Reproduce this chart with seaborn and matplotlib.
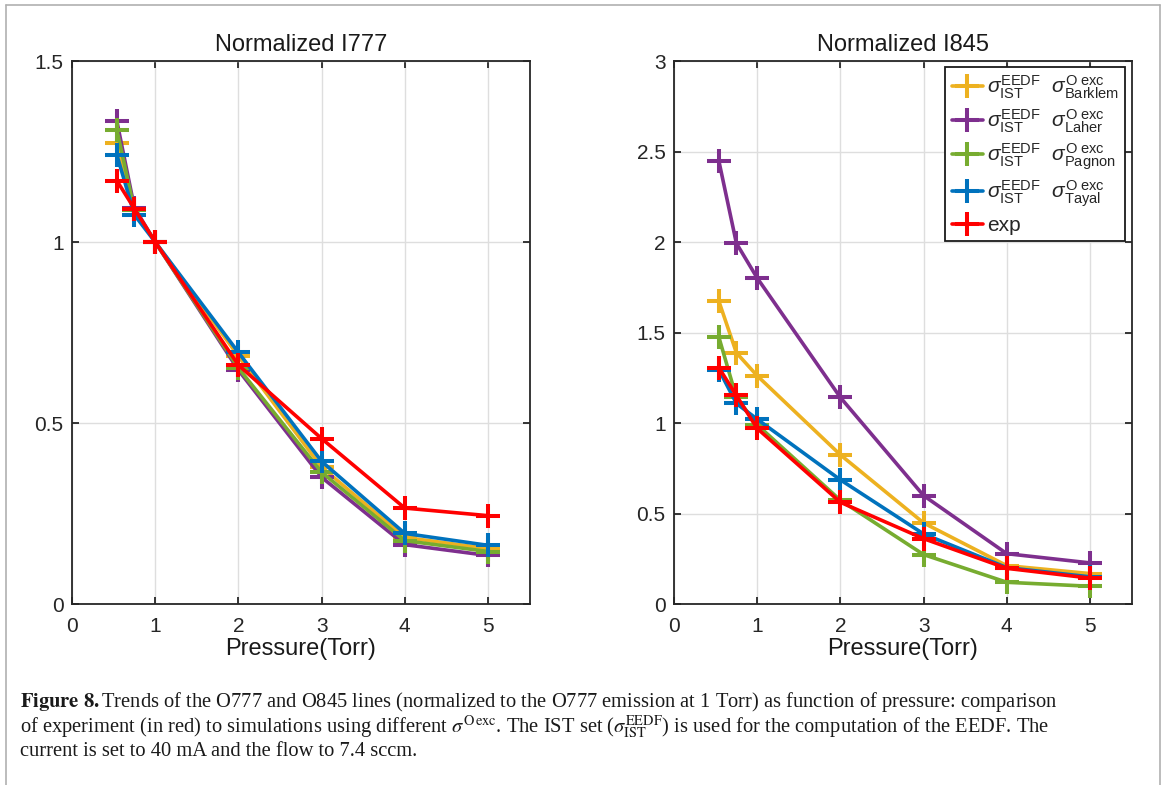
import numpy as np
import pandas as pd
import matplotlib
matplotlib.use("Agg")
import matplotlib.pyplot as plt
from matplotlib.lines import Line2D
import seaborn as sns

# Pressure points (Torr)
pressure = [0.54, 0.75, 1, 2, 3, 4, 5]

series_names = ["Barklem", "Laher", "Pagnon", "Tayal", "exp"]

# Normalized I777
i777_barklem = [1.274, 1.090, 1.0, 0.685, 0.378, 0.184, 0.153]
i777_laher = [1.333, 1.095, 1.0, 0.646, 0.350, 0.164, 0.134]
i777_pagnon = [1.309, 1.088, 1.0, 0.652, 0.364, 0.175, 0.145]
i777_tayal = [1.240, 1.075, 1.0, 0.695, 0.394, 0.195, 0.162]
i777_exp = [1.169, 1.092, 1.0, 0.660, 0.457, 0.265, 0.244]

# Normalized I845
i845_barklem = [1.672, 1.388, 1.261, 0.824, 0.448, 0.212, 0.168]
i845_laher = [2.446, 1.993, 1.801, 1.141, 0.599, 0.278, 0.227]
i845_pagnon = [1.473, 1.141, 0.990, 0.573, 0.273, 0.120, 0.098]
i845_tayal = [1.294, 1.108, 1.021, 0.686, 0.387, 0.201, 0.150]
i845_exp = [1.305, 1.152, 0.970, 0.562, 0.361, 0.197, 0.143]

colors = {
    "Barklem": "#EDB120",
    "Laher": "#7E2F8E",
    "Pagnon": "#77AC30",
    "Tayal": "#0072BD",
    "exp": "#FF0000",
}

legend_labels = [
    r"$\sigma^{\mathrm{EEDF}}_{\mathrm{IST}}\ \ \sigma^{\mathrm{O\ exc}}_{\mathrm{Barklem}}$",
    r"$\sigma^{\mathrm{EEDF}}_{\mathrm{IST}}\ \ \sigma^{\mathrm{O\ exc}}_{\mathrm{Laher}}$",
    r"$\sigma^{\mathrm{EEDF}}_{\mathrm{IST}}\ \ \sigma^{\mathrm{O\ exc}}_{\mathrm{Pagnon}}$",
    r"$\sigma^{\mathrm{EEDF}}_{\mathrm{IST}}\ \ \sigma^{\mathrm{O\ exc}}_{\mathrm{Tayal}}$",
    "exp",
]


def long_frame(values):
    rows = []
    for name, vals in zip(series_names, values):
        for p, v in zip(pressure, vals):
            rows.append({"pressure": p, "value": v, "set": name})
    return pd.DataFrame(rows)


df777 = long_frame([i777_barklem, i777_laher, i777_pagnon, i777_tayal, i777_exp])
df845 = long_frame([i845_barklem, i845_laher, i845_pagnon, i845_tayal, i845_exp])

sns.set_theme(style="ticks")
plt.rcParams["font.family"] = ["Liberation Sans", "DejaVu Sans"]
plt.rcParams["mathtext.fontset"] = "custom"
plt.rcParams["mathtext.rm"] = "Liberation Sans"
plt.rcParams["mathtext.it"] = "Liberation Sans:italic"
plt.rcParams["mathtext.bf"] = "Liberation Sans:bold"

W, H = 1165, 785
fig = plt.figure(figsize=(W / 100, H / 100), dpi=100)
fig.patch.set_facecolor("white")


def px_axes(x0, x1, y_top, y_bot):
    return fig.add_axes([x0 / W, 1 - y_bot / H, (x1 - x0) / W, (y_bot - y_top) / H])


ax1 = px_axes(72, 529.6, 61, 604)
ax2 = px_axes(674, 1131.6, 61, 604)

line_kw = dict(marker="+", markersize=17, markeredgewidth=2.9, linewidth=2.6)

for ax, df, ymax, yticks, title in [
    (ax1, df777, 1.5, [0, 0.5, 1, 1.5], "Normalized I777"),
    (ax2, df845, 3.0, [0, 0.5, 1, 1.5, 2, 2.5, 3], "Normalized I845"),
]:
    sns.lineplot(data=df, x="pressure", y="value", hue="set", hue_order=series_names,
                 palette=colors, legend=False, sort=False, ax=ax, **line_kw)
    # '+' markers take the colour of their own line
    for ln in ax.lines:
        ln.set_markeredgecolor(ln.get_color())
        ln.set_markerfacecolor(ln.get_color())
    ax.set_xlim(0, 5.5)
    ax.set_ylim(0, ymax)
    ax.set_xticks([0, 1, 2, 3, 4, 5])
    ax.set_xticklabels(["0", "1", "2", "3", "4", "5"])
    ax.set_yticks(yticks)
    ax.set_yticklabels([f"{t:g}" for t in yticks])
    ax.grid(True, color="#dedede", linewidth=1.0)
    ax.set_axisbelow(True)
    for s in ax.spines.values():
        s.set_visible(True)
        s.set_color("#262626")
        s.set_linewidth(1.3)
    ax.tick_params(direction="in", length=5, width=1.3, color="#262626",
                   top=True, right=True, labelsize=15, labelcolor="#262626")
    ax.tick_params(axis="x", pad=9)
    ax.tick_params(axis="y", pad=6)
    ax.set_title(title, fontsize=17, pad=7, color="#1a1a1a")
    ax.set_xlabel("Pressure(Torr)", fontsize=17, labelpad=2, color="#1a1a1a")
    ax.set_ylabel("")

handles = [Line2D([], [], color=colors[n], markeredgecolor=colors[n], **line_kw)
           for n in series_names]
leg = ax2.legend(handles, legend_labels, loc="upper right", bbox_to_anchor=(0.986, 0.989),
                 borderaxespad=0, fontsize=15, frameon=True, fancybox=False,
                 framealpha=1, edgecolor="#1a1a1a", handlelength=1.5,
                 handletextpad=0.2, labelspacing=0.32, borderpad=0.3)
leg.get_frame().set_linewidth(1.3)

# Outer frame lines of the figure panel
frame_col = "#b0b0b0"
fig.add_artist(Line2D([5.5 / W, 5.5 / W], [-0.1, 1 - 4.5 / H], color=frame_col, lw=1.2, transform=fig.transFigure))
fig.add_artist(Line2D([1159.5 / W, 1159.5 / W], [-0.1, 1 - 4.5 / H], color=frame_col, lw=1.2, transform=fig.transFigure))
fig.add_artist(Line2D([5.5 / W, 1159.5 / W], [1 - 4.5 / H, 1 - 4.5 / H], color=frame_col, lw=1.2, transform=fig.transFigure))

# Caption
cap_kw = dict(fontsize=14.8, family=["Liberation Serif", "DejaVu Serif"], math_fontfamily="stix",
              color="#1a1a1a", ha="left", va="baseline")
fig.text(20 / W, 1 - 707 / H,
         r"$\mathbf{Figure\ 8.}$Trends of the O777 and O845 lines (normalized to the O777 emission at 1 Torr) as function of pressure: comparison",
         **cap_kw)
fig.text(20 / W, 1 - 732 / H,
         r"of experiment (in red) to simulations using different $\sigma^{\mathrm{O\,exc}}$. The IST set ($\sigma^{\mathrm{EEDF}}_{\mathrm{IST}}$) is used for the computation of the EEDF. The",
         **cap_kw)
fig.text(20 / W, 1 - 756 / H,
         "current is set to 40 mA and the flow to 7.4 sccm.",
         **cap_kw)

fig.savefig("out.png", dpi=100)
